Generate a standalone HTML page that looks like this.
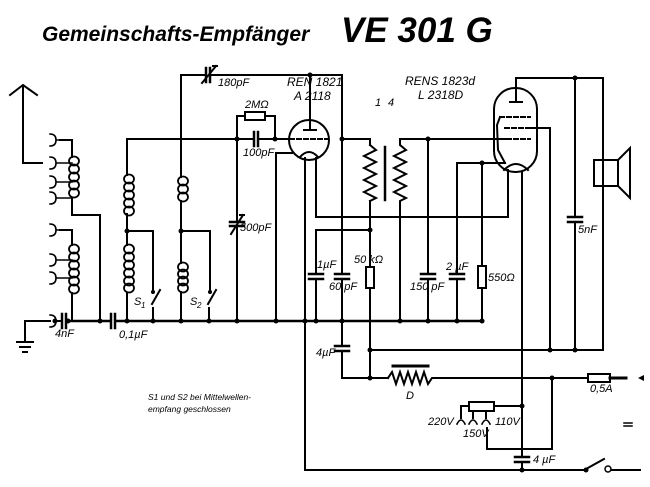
<!DOCTYPE html>
<html><head><meta charset="utf-8"><style>
html,body{margin:0;padding:0;background:#fff;}
svg{display:block;}
text{font-family:"Liberation Sans",sans-serif;font-style:italic;fill:#000;}
</style></head><body>
<svg width="650" height="487" viewBox="0 0 650 487" xmlns="http://www.w3.org/2000/svg">
<text x="42" y="41" font-size="21" font-weight="bold">Gemeinschafts-Empfänger</text>
<text x="341" y="42" font-size="35" font-weight="bold">VE 301 G</text>

<g stroke="#000" stroke-width="2" fill="none" stroke-linecap="square">
<!-- antenna -->
<polyline points="10,95 23,85 37,95"/>
<polyline points="23,86 23,163 42,163"/>
<!-- antenna terminals -->
<g stroke-width="1.6">
<path d="M50,134 q6,0 6,6 q0,6 -6,6 M56,140 h4"/>
<path d="M50,157 q6,0 6,6 q0,6 -6,6 M56,163 h16"/>
<path d="M50,176 q6,0 6,6 q0,6 -6,6 M56,182 h16"/>
<path d="M50,192 q6,0 6,6 q0,6 -6,6 M56,198 h16"/>
<path d="M50,224 q6,0 6,6 q0,6 -6,6 M56,230 h4"/>
<path d="M50,254 q6,0 6,6 q0,6 -6,6 M56,260 h16"/>
<path d="M50,272 q6,0 6,6 q0,6 -6,6 M56,278 h16"/>
<path d="M50,315 q6,0 6,6 q0,6 -6,6"/>
</g>
<polyline points="60,140 72,140 72,157"/>
<polyline points="72,199 72,215 100,215 100,321"/>
<polyline points="60,230 72,230 72,245"/>
<polyline points="72,293 72,321"/>
<g stroke-width="1.8">
<ellipse cx="74" cy="161" rx="5" ry="4.5"/><ellipse cx="74" cy="169" rx="5" ry="4.5"/><ellipse cx="74" cy="177" rx="5" ry="4.5"/><ellipse cx="74" cy="185" rx="5" ry="4.5"/><ellipse cx="74" cy="193" rx="5" ry="4.5"/>
<ellipse cx="74" cy="249" rx="5" ry="4.5"/><ellipse cx="74" cy="257" rx="5" ry="4.5"/><ellipse cx="74" cy="265" rx="5" ry="4.5"/><ellipse cx="74" cy="273" rx="5" ry="4.5"/><ellipse cx="74" cy="281" rx="5" ry="4.5"/><ellipse cx="74" cy="289" rx="5" ry="4.5"/>
<ellipse cx="129" cy="179" rx="5" ry="4.5"/><ellipse cx="129" cy="187" rx="5" ry="4.5"/><ellipse cx="129" cy="195" rx="5" ry="4.5"/><ellipse cx="129" cy="203" rx="5" ry="4.5"/><ellipse cx="129" cy="211" rx="5" ry="4.5"/>
<ellipse cx="129" cy="249" rx="5" ry="4.5"/><ellipse cx="129" cy="257" rx="5" ry="4.5"/><ellipse cx="129" cy="265" rx="5" ry="4.5"/><ellipse cx="129" cy="273" rx="5" ry="4.5"/><ellipse cx="129" cy="281" rx="5" ry="4.5"/><ellipse cx="129" cy="288" rx="5" ry="4.5"/>
<ellipse cx="183" cy="181" rx="5" ry="4.5"/><ellipse cx="183" cy="189" rx="5" ry="4.5"/><ellipse cx="183" cy="197" rx="5" ry="4.5"/>
<ellipse cx="183" cy="267" rx="5" ry="4.5"/><ellipse cx="183" cy="274" rx="5" ry="4.5"/><ellipse cx="183" cy="281" rx="5" ry="4.5"/><ellipse cx="183" cy="288" rx="5" ry="4.5"/>
</g>
<!-- ground -->
<polyline points="50,321 25,321 25,341"/>
<line x1="17" y1="342" x2="33" y2="342"/><line x1="20" y1="347" x2="30" y2="347"/><line x1="23" y1="352" x2="27" y2="352"/>
<!-- bus -->
<line x1="68" y1="321" x2="110" y2="321" stroke-width="2.5"/>
<line x1="117" y1="321" x2="483" y2="321" stroke-width="2.5"/>
<line x1="56" y1="321" x2="61" y2="321"/>
<line x1="62" y1="314" x2="62" y2="328" stroke-width="2.5"/><line x1="66" y1="314" x2="66" y2="328" stroke-width="2.5"/>
<line x1="111" y1="314" x2="111" y2="328" stroke-width="2.5"/><line x1="115" y1="314" x2="115" y2="328" stroke-width="2.5"/>
<!-- L1 -->
<polyline points="127,321 127,293"/><polyline points="127,245 127,214"/><polyline points="127,175 127,139 237,139"/>
<polyline points="127,231 153,231 153,292"/>
<line x1="153" y1="321" x2="153" y2="308"/><line x1="152" y1="304" x2="160" y2="290"/>
<!-- L2 -->
<polyline points="181,321 181,292"/><polyline points="181,263 181,201"/><polyline points="181,177 181,75 205,75"/>
<polyline points="181,231 210,231 210,292"/>
<line x1="209" y1="321" x2="209" y2="308"/><line x1="208" y1="304" x2="216" y2="290"/>
<line x1="212" y1="75" x2="342" y2="75"/>
<line x1="206" y1="68" x2="206" y2="82" stroke-width="2.5"/><line x1="210" y1="68" x2="210" y2="82" stroke-width="2.5"/>
<line x1="202" y1="83" x2="216" y2="66"/><line x1="213" y1="66" x2="217" y2="66"/>
<!-- grid line and 2M -->
<line x1="237" y1="139" x2="254" y2="139"/><line x1="259" y1="139" x2="290" y2="139"/>
<line x1="254" y1="132" x2="254" y2="146" stroke-width="2.5"/><line x1="258" y1="132" x2="258" y2="146" stroke-width="2.5"/>
<polyline points="237,139 237,116 245,116"/><rect x="245" y="112" width="20" height="8"/><polyline points="265,116 275,116 275,139"/>
<!-- 500pF -->
<line x1="237" y1="139" x2="237" y2="222"/><line x1="237" y1="227" x2="237" y2="321"/>
<line x1="230" y1="222" x2="244" y2="222" stroke-width="2.5"/><line x1="230" y1="226" x2="244" y2="226" stroke-width="2.5"/>
<line x1="231" y1="234" x2="243" y2="215"/><line x1="240" y1="215" x2="244" y2="215"/>
<!-- tube1 -->
<circle cx="309" cy="140" r="20"/>
<line x1="310" y1="75" x2="310" y2="130"/><line x1="304" y1="130" x2="316" y2="130"/>
<line x1="290" y1="139" x2="328" y2="139" stroke-dasharray="4,3"/>
<path d="M300,157 q9,-10 18,0"/>
<polyline points="276,321 276,153 292,153"/>
<line x1="305" y1="158" x2="305" y2="470"/>
<polyline points="316,158 316,217 508,217 508,170"/>
<line x1="342" y1="75" x2="342" y2="273"/><line x1="342" y1="281" x2="342" y2="345"/><line x1="342" y1="353" x2="342" y2="378"/>
<line x1="335" y1="274" x2="349" y2="274" stroke-width="2.5"/><line x1="335" y1="279" x2="349" y2="279" stroke-width="2.5"/>
<line x1="335" y1="346" x2="349" y2="346" stroke-width="2.5"/><line x1="335" y1="351" x2="349" y2="351" stroke-width="2.5"/>
<polyline points="342,378 388,378"/>
<!-- transformer -->
<polyline points="342,139 370,139 370,145"/>
<polyline points="370,145 376,150 364,156 376,162 364,168 376,174 364,180 376,186 364,192 376,198 370,201"/>
<line x1="385" y1="147" x2="385" y2="200" stroke-width="2.5"/>
<polyline points="400,139 400,145 406,150 394,156 406,162 394,168 406,174 394,180 406,186 394,192 406,198 400,201 400,321"/>
<line x1="400" y1="139" x2="505" y2="139"/>
<line x1="370" y1="201" x2="370" y2="266"/><rect x="366" y="267" width="8" height="21"/><line x1="370" y1="288" x2="370" y2="378"/>
<polyline points="370,230 316,230 316,273"/><line x1="316" y1="281" x2="316" y2="321"/>
<line x1="309" y1="274" x2="323" y2="274" stroke-width="2.5"/><line x1="309" y1="279" x2="323" y2="279" stroke-width="2.5"/>
<!-- 150pF -->
<line x1="428" y1="139" x2="428" y2="273"/><line x1="428" y1="281" x2="428" y2="321"/>
<line x1="421" y1="274" x2="435" y2="274" stroke-width="2.5"/><line x1="421" y1="279" x2="435" y2="279" stroke-width="2.5"/>
<!-- cathode tube2 -->
<polyline points="505,163 457,163 457,273"/><line x1="457" y1="281" x2="457" y2="321"/>
<line x1="450" y1="274" x2="464" y2="274" stroke-width="2.5"/><line x1="450" y1="279" x2="464" y2="279" stroke-width="2.5"/>
<line x1="482" y1="163" x2="482" y2="265"/><rect x="478" y="266" width="8" height="22"/><line x1="482" y1="288" x2="482" y2="321"/>
<!-- tube2 -->
<rect x="494" y="88" width="43" height="84" rx="21" ry="21"/>
<polyline points="516,102 516,78 603,78 603,350"/><line x1="510" y1="102" x2="522" y2="102"/>
<line x1="500" y1="117" x2="530" y2="117" stroke-dasharray="4,3"/>
<line x1="505" y1="128" x2="530" y2="128" stroke-dasharray="4,3"/>
<line x1="500" y1="139" x2="530" y2="139" stroke-dasharray="4,3"/>
<polyline points="500,117 497,125 498,150 505,163"/>
<path d="M504,170 q12,-12 24,0"/>
<polyline points="530,128 550,128 550,350"/>
<line x1="522" y1="172" x2="522" y2="456"/><line x1="522" y1="463" x2="522" y2="470"/>
<line x1="515" y1="457" x2="529" y2="457" stroke-width="2.5"/><line x1="515" y1="462" x2="529" y2="462" stroke-width="2.5"/>
<line x1="575" y1="78" x2="575" y2="216"/><line x1="575" y1="223" x2="575" y2="350"/>
<line x1="568" y1="217" x2="582" y2="217" stroke-width="2.5"/><line x1="568" y1="222" x2="582" y2="222" stroke-width="2.5"/>
<line x1="370" y1="350" x2="603" y2="350"/>
<!-- speaker -->
<rect x="594" y="160" width="24" height="26"/>
<polygon points="618,160 630,148 630,198 618,186"/>
<!-- D choke -->
<polyline points="388,378 392,372 396,384 400,372 404,384 408,372 412,384 416,372 420,384 424,372 428,384 432,378 588,378"/>
<line x1="393" y1="366" x2="428" y2="366" stroke-width="3"/>
<rect x="588" y="374" width="22" height="8"/>
<line x1="610" y1="378" x2="626" y2="378" stroke-width="3"/>
<!-- selector -->
<rect x="469" y="402" width="25" height="9"/>
<line x1="494" y1="406" x2="522" y2="406"/>
<polyline points="469,406 461,406 461,418"/>
<line x1="473" y1="411" x2="473" y2="418"/><line x1="486" y1="411" x2="486" y2="418"/>
<path d="M457,424 q4,-8 8,0 M469,424 q4,-8 8,0 M482,424 q4,-8 8,0" stroke-width="1.6"/>
<polyline points="487,428 487,449 552,449 552,378"/>
<!-- bottom -->
<line x1="305" y1="470" x2="585" y2="470"/>
<line x1="586" y1="469" x2="604" y2="459"/>
<line x1="612" y1="470" x2="640" y2="470"/>
<line x1="624" y1="423" x2="632" y2="423" stroke-width="1.5"/>
<line x1="624" y1="426" x2="632" y2="426" stroke-width="1.5"/>
</g>
<circle cx="608" cy="469" r="3" fill="#fff" stroke="#000" stroke-width="1.5"/>
<polygon points="638,378 644,375 644,381" fill="#000"/>
<g fill="#000">
<circle cx="55" cy="321" r="2.5"/><circle cx="68" cy="321" r="2.5"/><circle cx="100" cy="321" r="2.5"/><circle cx="127" cy="321" r="2.5"/><circle cx="153" cy="321" r="2.5"/><circle cx="181" cy="321" r="2.5"/><circle cx="209" cy="321" r="2.5"/><circle cx="237" cy="321" r="2.5"/><circle cx="276" cy="321" r="2.5"/><circle cx="305" cy="321" r="2.5"/><circle cx="316" cy="321" r="2.5"/><circle cx="342" cy="321" r="2.5"/><circle cx="400" cy="321" r="2.5"/><circle cx="428" cy="321" r="2.5"/><circle cx="457" cy="321" r="2.5"/><circle cx="482" cy="321" r="2.5"/>
<circle cx="127" cy="231" r="2.5"/><circle cx="181" cy="231" r="2.5"/><circle cx="237" cy="139" r="2.5"/><circle cx="275" cy="139" r="2.5"/><circle cx="342" cy="139" r="2.5"/><circle cx="428" cy="139" r="2.5"/><circle cx="370" cy="230" r="2.5"/><circle cx="482" cy="163" r="2.5"/><circle cx="575" cy="78" r="2.5"/><circle cx="310" cy="75" r="2.5"/>
<circle cx="370" cy="350" r="2.5"/><circle cx="550" cy="350" r="2.5"/><circle cx="575" cy="350" r="2.5"/><circle cx="370" cy="378" r="2.5"/><circle cx="552" cy="378" r="2.5"/><circle cx="522" cy="406" r="2.5"/><circle cx="522" cy="470" r="2.5"/><circle cx="586" cy="470" r="2.5"/>
<circle cx="153" cy="292" r="2"/><circle cx="210" cy="292" r="2"/>
</g>
<g font-size="11">
<text x="218" y="86">180pF</text>
<text x="287" y="86" font-size="12">REN 1821</text>
<text x="294" y="100" font-size="12">A  2118</text>
<text x="245" y="108">2MΩ</text>
<text x="243" y="156">100pF</text>
<text x="240" y="231">500pF</text>
<text x="405" y="85" font-size="12">RENS 1823d</text>
<text x="418" y="99" font-size="12">L 2318D</text>
<text x="375" y="106">1</text><text x="388" y="106">4</text>
<text x="317" y="268">1µF</text>
<text x="329" y="290">60 pF</text>
<text x="354" y="263">50 kΩ</text>
<text x="410" y="290">150 pF</text>
<text x="446" y="270">2 µF</text>
<text x="488" y="281">550Ω</text>
<text x="578" y="233">5nF</text>
<text x="55" y="337">4nF</text>
<text x="119" y="338">0,1µF</text>
<text x="134" y="305">S</text><text x="141" y="308" font-size="8">1</text>
<text x="190" y="305">S</text><text x="197" y="308" font-size="8">2</text>
<text x="316" y="356">4µF</text>
<text x="406" y="399">D</text>
<text x="590" y="392">0,5A</text>
<text x="428" y="425">220V</text>
<text x="463" y="437">150V</text>
<text x="495" y="425">110V</text>
<text x="533" y="463">4 µF</text>
</g>
<g font-size="8.5">
<text x="148" y="400">S1 und S2 bei Mittelwellen-</text>
<text x="148" y="412">empfang geschlossen</text>
</g>
</svg>
</body></html>
